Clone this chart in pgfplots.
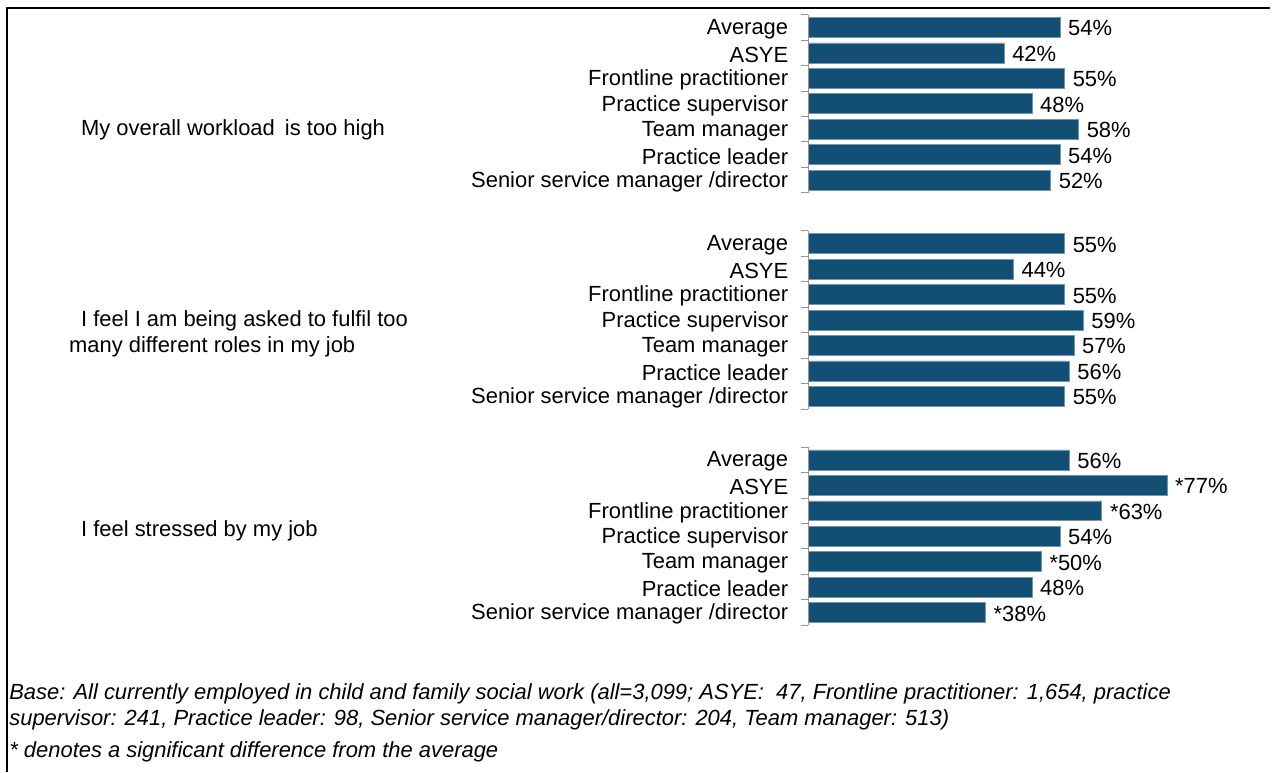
\documentclass[border=0pt]{standalone}
\usepackage{fontspec}
\setmainfont{Liberation Sans}
\usepackage{pgfplots}
\pgfplotsset{compat=1.18}
\definecolor{barblue}{RGB}{17,79,117}
\definecolor{tickgray}{RGB}{150,150,150}

% one px of the reference = 0.5pt
\begin{document}
\begin{tikzpicture}
\fontsize{11pt}{13pt}\selectfont
\path (0,0) rectangle (637pt,387pt);
% frame (top and left edges only)
\draw[black, line width=1pt] (3.5pt,0pt) -- (3.5pt,382.75pt) -- (637pt,382.75pt);

\begin{axis}[
  at={(405.5pt,386pt)}, anchor=north west,
  scale only axis, width=233.5pt, height=319.0pt,
  xmin=0, xmax=100, ymin=-1, ymax=24, y dir=reverse,
  hide x axis,
  y axis line style={draw=none},
  ytick pos=left,
  ytick={0,1,2,3,4,5,6,8.5,9.5,10.5,11.5,12.5,13.5,14.5,17,18,19,20,21,22,23},
  yticklabels={Average,ASYE,Frontline practitioner,Practice supervisor,Team manager,Practice leader,Senior service manager /director,
               Average,ASYE,Frontline practitioner,Practice supervisor,Team manager,Practice leader,Senior service manager /director,
               Average,ASYE,Frontline practitioner,Practice supervisor,Team manager,Practice leader,Senior service manager /director},
  major tick length=0pt,
  minor ytick={-0.5,0.5,1.5,2.5,3.5,4.5,5.5,6.5,8,9,10,11,12,13,14,15,16.5,17.5,18.5,19.5,20.5,21.5,22.5,23.5},
  minor tick length=3.5pt, tick align=outside,
  minor tick style={draw=tickgray, line width=0.5pt},
  yticklabel style={font=\fontsize{11pt}{13pt}\selectfont, inner sep=0pt, xshift=-10pt, yshift=-0.8pt, anchor=east},
  xbar, bar width=10pt,
  point meta=explicit symbolic,
  nodes near coords={\pgfplotspointmeta\%},
  nodes near coords style={anchor=west, inner sep=0pt, xshift=4pt, yshift=-0.5pt,
                           font=\fontsize{11pt}{13pt}\selectfont},
  clip=false,
]
\addplot[fill=barblue, draw=barblue!60!white, line width=0.3pt] table[x=v, y=pos, meta=lbl] {
pos  v  lbl
0    54 54
1    42 42
2    55 55
3    48 48
4    58 58
5    54 54
6    52 52
8.5  55 55
9.5  44 44
10.5 55 55
11.5 59 59
12.5 57 57
13.5 56 56
14.5 55 55
17   56 56
18   77 *77
19   63 *63
20   54 54
21   50 *50
22   48 48
23   38 *38
};
\draw[tickgray, line width=0.5pt] (axis cs:0,-0.5) -- (axis cs:0,6.5);
\draw[tickgray, line width=0.5pt] (axis cs:0,8) -- (axis cs:0,15);
\draw[tickgray, line width=0.5pt] (axis cs:0,16.5) -- (axis cs:0,23.5);
\end{axis}

% group labels
\node[anchor=west, inner sep=0pt] at (40.5pt,322pt) {My overall workload\hspace{2pt} is too high};
\node[anchor=west, inner sep=0pt] at (40.5pt,226pt) {I feel I am being asked to fulfil too};
\node[anchor=west, inner sep=0pt] at (34.5pt,213pt) {many different roles in my job};
\node[anchor=west, inner sep=0pt] at (40.5pt,121pt) {I feel stressed by my job};

% footnote
\begin{scope}[every node/.style={anchor=west, inner sep=0pt, font=\itshape}]
\node at (4.5pt,39pt) {Base: All currently employed in child and family social work (all=3,099; ASYE:\ \ 47, Frontline practitioner: 1,654, practice};
\node at (4.5pt,26pt) {supervisor: 241, Practice leader: 98, Senior service manager/director: 204, Team manager: 513)};
\node at (4.5pt,10pt) {* denotes a significant difference from the average};
\end{scope}
\end{tikzpicture}
\end{document}
